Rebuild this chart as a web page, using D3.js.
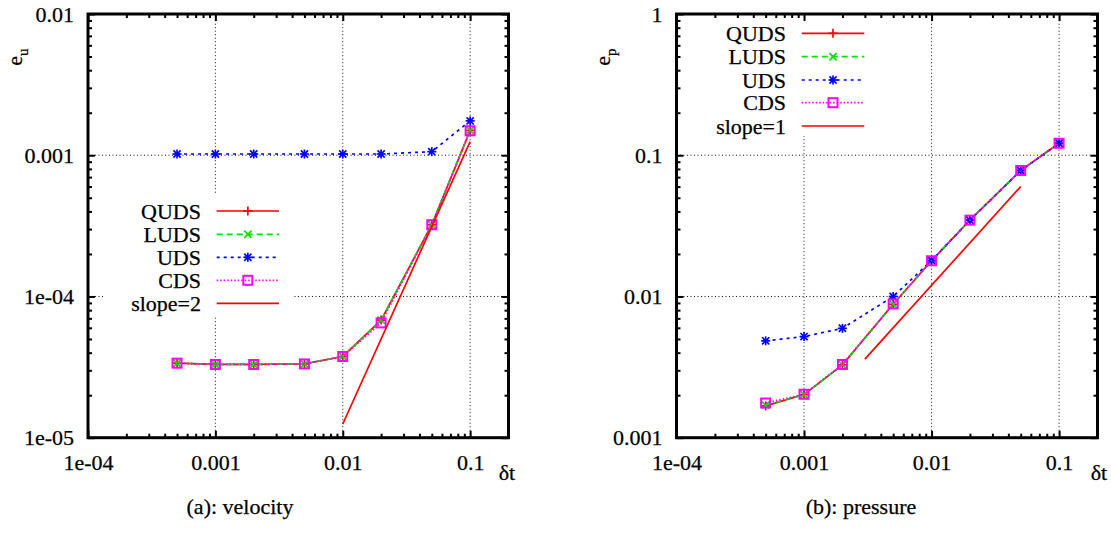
<!DOCTYPE html>
<html><head><meta charset="utf-8">
<script src="https://cdn.jsdelivr.net/npm/d3@7"></script>
<style>
body{margin:0;background:#fff;}
svg{display:block;}
svg text{font-family:'Liberation Serif','Times New Roman','DejaVu Serif',serif !important;fill:#000;stroke:#000;stroke-width:0.25px;}
</style>
</head><body>
<svg id="c" width="1111" height="533"></svg>
<script>
// ---------- data ----------
const dt = [0.0005, 0.001, 0.002, 0.005, 0.01, 0.02, 0.05, 0.1];
const velQUDS = [3.37e-5, 3.30e-5, 3.30e-5, 3.33e-5, 3.76e-5, 6.8e-5, 3.22e-4, 1.50e-3];
const velLUDS = [3.37e-5, 3.30e-5, 3.30e-5, 3.33e-5, 3.76e-5, 6.8e-5, 3.22e-4, 1.50e-3];
const velUDS  = [1.02e-3, 1.02e-3, 1.02e-3, 1.02e-3, 1.02e-3, 1.02e-3, 1.06e-3, 1.75e-3];
const velCDS  = [3.37e-5, 3.30e-5, 3.30e-5, 3.33e-5, 3.76e-5, 6.5e-5, 3.22e-4, 1.49e-3];
const velSlopeX = [0.01, 0.1];
const velSlopeY = [1.25e-5, 1.25e-3];
const preQUDS = [1.68e-3, 2.02e-3, 3.28e-3, 8.8e-3, 0.0179, 0.0347, 0.078, 0.1215];
const preLUDS = [1.70e-3, 2.02e-3, 3.28e-3, 8.8e-3, 0.0179, 0.0347, 0.078, 0.1215];
const preUDS  = [4.85e-3, 5.2e-3, 5.95e-3, 0.0100, 0.0180, 0.0347, 0.078, 0.1215];
const preCDS  = [1.76e-3, 2.03e-3, 3.30e-3, 8.85e-3, 0.0179, 0.0347, 0.078, 0.1215];
const preSlopeX = [0.003, 0.05];
const preSlopeY = [0.0036, 0.06];
const xTicks = [1e-4, 1e-3, 1e-2, 1e-1];
const xTickLabels = ["1e-04", "0.001", "0.01", "0.1"];
const velYTicks = [1e-5, 1e-4, 1e-3, 1e-2];
const velYTickLabels = ["1e-05", "1e-04", "0.001", "0.01"];
const preYTicks = [1e-3, 1e-2, 1e-1, 1];
const preYTickLabels = ["0.001", "0.01", "0.1", "1"];
const seriesNames = ["QUDS", "LUDS", "UDS", "CDS"];

// ---------- styles ----------
const styles = [
  {color:"#ff0000", dash:null, marker:"plus"},
  {color:"#00e000", dash:"6,4", marker:"cross"},
  {color:"#0000ff", dash:"3,4", marker:"star"},
  {color:"#ff00ff", dash:"1.5,2", marker:"square"}
];
const FS = 22;
const svg = d3.select("#c");

function minorTicks(domain){
  const out=[];
  const lo=Math.floor(Math.log10(domain[0])), hi=Math.ceil(Math.log10(domain[1]));
  for(let n=lo;n<hi;n++) for(let k=2;k<=9;k++){const v=k*Math.pow(10,n); if(v>domain[0]*1.0001 && v<domain[1]*0.9999) out.push(v);}
  return out;
}

function marker(g, type, cx, cy, color){
  const s=4.5;
  if(type==="plus"||type==="star"){
    g.append("line").attr("x1",cx-s).attr("x2",cx+s).attr("y1",cy).attr("y2",cy).attr("stroke",color).attr("stroke-width",1.7);
    g.append("line").attr("x1",cx).attr("x2",cx).attr("y1",cy-s).attr("y2",cy+s).attr("stroke",color).attr("stroke-width",1.7);
  }
  if(type==="cross"||type==="star"){
    const t=s*0.8;
    g.append("line").attr("x1",cx-t).attr("x2",cx+t).attr("y1",cy-t).attr("y2",cy+t).attr("stroke",color).attr("stroke-width",1.7);
    g.append("line").attr("x1",cx-t).attr("x2",cx+t).attr("y1",cy+t).attr("y2",cy-t).attr("stroke",color).attr("stroke-width",1.7);
  }
  if(type==="square"){
    g.append("rect").attr("x",cx-4.5).attr("y",cy-4.5).attr("width",9).attr("height",9).attr("fill","none").attr("stroke",color).attr("stroke-width",2);
  }
}

function panel(o){
  const x=d3.scaleLog().domain(o.xDomain).range(o.xRange);
  const y=d3.scaleLog().domain(o.yDomain).range(o.yRange);
  const g=svg.append("g");
  const [x0,x1]=o.xRange, [y0,y1]=o.yRange;

  // grid
  const grid=g.append("g").attr("stroke","#111").attr("stroke-width",1).attr("stroke-dasharray","1,2.5");
  xTicks.filter(v=>v>o.xDomain[0]*1.001 && v<o.xDomain[1]*0.999).forEach(v=>{
    grid.append("line").attr("x1",x(v)).attr("x2",x(v)).attr("y1",y0).attr("y2",y1);
  });
  o.yTicks.filter(v=>v>o.yDomain[0]*1.001 && v<o.yDomain[1]*0.999).forEach(v=>{
    grid.append("line").attr("x1",x0).attr("x2",x1).attr("y1",y(v)).attr("y2",y(v));
  });
  // opaque legend background
  g.append("rect").attr("x",o.legBox[0]).attr("y",o.legBox[1]).attr("width",o.legBox[2]).attr("height",o.legBox[3]).attr("fill","#fff");

  // axes (inward ticks)
  const xm=minorTicks(o.xDomain), ym=minorTicks(o.yDomain);
  g.append("g").attr("transform",`translate(0,${y0})`)
    .call(d3.axisBottom(x).tickValues(xTicks).tickSizeInner(-7).tickSizeOuter(0).tickPadding(16.5).tickFormat((d,i)=>xTickLabels[i]));
  g.append("g").attr("transform",`translate(0,${y0})`).call(d3.axisBottom(x).tickValues(xm).tickSizeInner(-4).tickSizeOuter(0).tickFormat(""));
  g.append("g").attr("transform",`translate(0,${y1})`).call(d3.axisTop(x).tickValues(xTicks).tickSizeInner(-7).tickSizeOuter(0).tickFormat(""));
  g.append("g").attr("transform",`translate(0,${y1})`).call(d3.axisTop(x).tickValues(xm).tickSizeInner(-4).tickSizeOuter(0).tickFormat(""));
  g.append("g").attr("transform",`translate(${x0},0)`)
    .call(d3.axisLeft(y).tickValues(o.yTicks).tickSizeInner(-7).tickSizeOuter(0).tickPadding(14).tickFormat((d,i)=>o.yTickLabels[i]));
  g.append("g").attr("transform",`translate(${x0},0)`).call(d3.axisLeft(y).tickValues(ym).tickSizeInner(-4).tickSizeOuter(0).tickFormat(""));
  g.append("g").attr("transform",`translate(${x1},0)`).call(d3.axisRight(y).tickValues(o.yTicks).tickSizeInner(-7).tickSizeOuter(0).tickFormat(""));
  g.append("g").attr("transform",`translate(${x1},0)`).call(d3.axisRight(y).tickValues(ym).tickSizeInner(-4).tickSizeOuter(0).tickFormat(""));
  g.selectAll(".domain").remove();
  g.selectAll(".tick line").attr("stroke","#000").attr("stroke-width",2);
  g.selectAll(".tick text").attr("font-size",FS);

  // frame
  g.append("rect").attr("x",x0).attr("y",y1).attr("width",x1-x0).attr("height",y0-y1)
    .attr("fill","none").attr("stroke","#000").attr("stroke-width",3);

  // series
  const line=d3.line().x(d=>x(d[0])).y(d=>y(d[1]));
  o.series.forEach((vals,si)=>{
    const st=styles[si];
    const pts=dt.map((d,i)=>[d,vals[i]]);
    g.append("path").datum(pts).attr("d",line).attr("fill","none").attr("stroke",st.color)
      .attr("stroke-width",1.7).attr("stroke-dasharray",st.dash);
    const mg=g.append("g");
    pts.forEach(p=>marker(mg,st.marker,x(p[0]),y(p[1]),st.color));
  });
  const sp=o.slopeX.map((d,i)=>[d,o.slopeY[i]]);
  g.append("path").datum(sp).attr("d",line).attr("fill","none").attr("stroke","#ff0000").attr("stroke-width",1.7);

  // legend
  const lg=g.append("g");
  const names=seriesNames.concat([o.slopeName]);
  names.forEach((nm,i)=>{
    const cy=o.legY[i];
    lg.append("text").attr("x",o.legTextX).attr("y",cy).attr("dy","0.35em").attr("text-anchor","end")
      .attr("font-size",FS).text(nm);
    const st = i<4 ? styles[i] : {color:"#ff0000",dash:null};
    lg.append("line").attr("x1",o.legLine[0]).attr("x2",o.legLine[1]).attr("y1",cy).attr("y2",cy)
      .attr("stroke",st.color).attr("stroke-width",1.7).attr("stroke-dasharray",st.dash);
    if(i<4) marker(lg,st.marker,(o.legLine[0]+o.legLine[1])/2,cy,st.color);
  });

  // axis labels
  const yl=g.append("text").attr("transform",`translate(${o.yLabelPos[0]},${o.yLabelPos[1]}) rotate(-90)`)
    .attr("text-anchor","middle").attr("font-size",FS);
  yl.append("tspan").text("e");
  yl.append("tspan").attr("dy",6).attr("font-size",15).text(o.ySub);
  g.append("text").attr("x",o.dtPos[0]).attr("y",o.dtPos[1]).attr("text-anchor","middle").attr("font-size",FS).text("δt");
  g.append("text").attr("x",o.capPos[0]).attr("y",o.capPos[1]).attr("text-anchor","middle").attr("font-size",FS).text(o.caption);
}

panel({
  xDomain:[1e-4,0.2], xRange:[88,508.5],
  yDomain:[1e-5,0.01], yRange:[437.7,14],
  yTicks:velYTicks, yTickLabels:velYTickLabels,
  series:[velQUDS,velLUDS,velUDS,velCDS],
  slopeX:velSlopeX, slopeY:velSlopeY, slopeName:"slope=2",
  legBox:[103,195,190,122],
  legTextX:201, legY:[211,234.3,257.3,280.3,303.3], legLine:[216.7,279],
  ySub:"u", yLabelPos:[22,57],
  dtPos:[507,480], capPos:[240,514], caption:"(a): velocity"
});
panel({
  xDomain:[1e-4,0.2], xRange:[676.5,1097.5],
  yDomain:[1e-3,1], yRange:[437.7,14],
  yTicks:preYTicks, yTickLabels:preYTickLabels,
  series:[preQUDS,preLUDS,preUDS,preCDS],
  slopeX:preSlopeX, slopeY:preSlopeY, slopeName:"slope=1",
  legBox:[690,17,185,119],
  legTextX:786, legY:[33.3,56.7,80,102.7,126], legLine:[801.7,864.3],
  ySub:"p", yLabelPos:[610,57],
  dtPos:[1099,480], capPos:[861,514], caption:"(b): pressure"
});
</script>
</body></html>
